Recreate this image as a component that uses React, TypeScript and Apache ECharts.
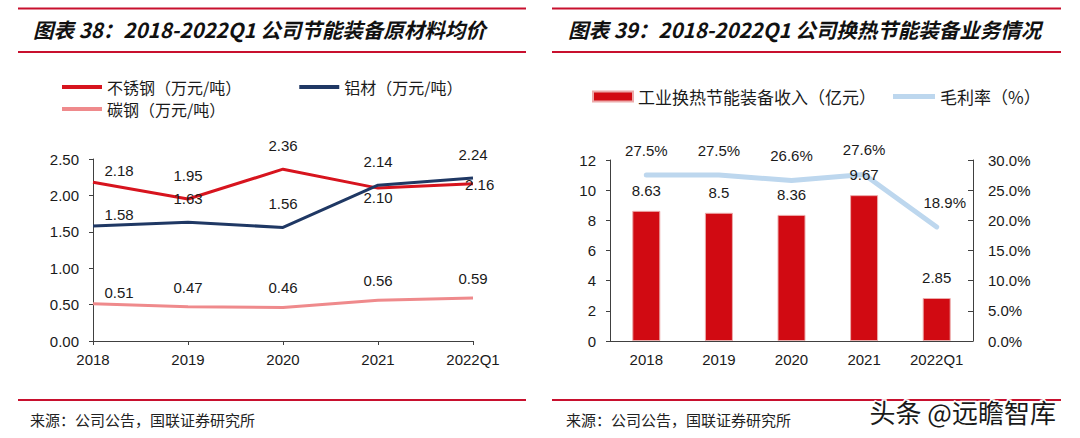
import React, { useEffect, useRef } from "react";
import * as echarts from "echarts";

const categories = ["2018", "2019", "2020", "2021", "2022Q1"];
const stainlessSteel = [2.18, 1.95, 2.36, 2.1, 2.16];
const aluminum = [1.58, 1.63, 1.56, 2.14, 2.24];
const carbonSteel = [0.51, 0.47, 0.46, 0.56, 0.59];
const revenue = [8.63, 8.5, 8.36, 9.67, 2.85];
const grossMargin = [27.5, 27.5, 26.6, 27.6, 18.9];

const nameStainless = "不锈钢（万元/吨）";
const nameAluminum = "铝材（万元/吨）";
const nameCarbon = "碳钢（万元/吨）";
const nameRevenue = "工业换热节能装备收入（亿元）";
const nameMargin = "毛利率（%）";

const title1 = "图表 38：2018-2022Q1 公司节能装备原材料均价";
const title2 = "图表 39：2018-2022Q1 公司换热节能装备业务情况";
const source = "来源：公司公告，国联证券研究所";
const watermark = "头条 @远瞻智库";

const RULE = "#c8102e";
const NUM_FONT = "Liberation Sans";
const CJK_FONT = "Noto Sans CJK SC";

function withLabels(values: number[], overrides: Record<number, any>, base: any) {
  return values.map((v, i) => ({
    value: v,
    label: { ...base, ...(overrides[i] || {}) },
  }));
}

export default function App() {
  const ref = useRef<HTMLDivElement>(null);
  useEffect(() => {
    if (!ref.current) return;
    const chart = echarts.init(ref.current, undefined, { renderer: "svg" });
    const lblBase = {
      show: true,
      position: "top",
      distance: 16,
      fontSize: 15,
      fontFamily: NUM_FONT,
      color: "#1a1a1a",
      formatter: (p: any) => Number(p.value).toFixed(2),
    };
    const firstShift = { distance: 4, offset: [26, 0] };
    const axisLineStyle = { color: "#404040", width: 1 };
    const tinySymbol = {
      symbol: "circle",
      symbolSize: 0.1,
      showSymbol: true,
    };
    const legendText = { fontSize: 16, color: "#1a1a1a", fontFamily: CJK_FONT };
    const option: any = {
      animation: false,
      backgroundColor: "#ffffff",
      textStyle: { fontFamily: CJK_FONT },
      legend: [
        {
          left: 57,
          top: 74,
          data: [nameStainless, nameAluminum],
          icon: "rect",
          itemWidth: 40,
          itemHeight: 4,
          itemGap: 58,
          textStyle: legendText,
        },
        {
          left: 57,
          top: 96,
          data: [nameCarbon],
          icon: "rect",
          itemWidth: 40,
          itemHeight: 4,
          textStyle: legendText,
        },
        {
          left: 587,
          top: 83,
          data: [nameRevenue],
          icon: "rect",
          itemWidth: 40,
          itemHeight: 10,
          textStyle: { ...legendText, fontSize: 17 },
        },
        {
          left: 888,
          top: 83,
          data: [nameMargin],
          icon: "rect",
          itemWidth: 42,
          itemHeight: 5,
          textStyle: { ...legendText, fontSize: 17 },
        },
      ],
      grid: [
        { left: 93, width: 380, top: 159, height: 182 },
        { left: 610, width: 363, top: 160, height: 181 },
      ],
      xAxis: [
        {
          gridIndex: 0,
          type: "category",
          data: categories,
          boundaryGap: false,
          axisLine: { lineStyle: axisLineStyle },
          axisTick: { show: true, length: 4, lineStyle: axisLineStyle },
          axisLabel: { margin: 11, fontSize: 15, fontFamily: NUM_FONT, color: "#1a1a1a" },
        },
        {
          gridIndex: 1,
          type: "category",
          data: categories,
          axisLine: { lineStyle: axisLineStyle },
          axisTick: { show: false },
          axisLabel: { margin: 11, fontSize: 15, fontFamily: NUM_FONT, color: "#1a1a1a" },
        },
      ],
      yAxis: [
        {
          gridIndex: 0,
          type: "value",
          min: 0,
          max: 2.5,
          interval: 0.5,
          axisLine: { show: true, lineStyle: axisLineStyle },
          axisTick: { show: true, length: 4, lineStyle: axisLineStyle },
          splitLine: { show: false },
          axisLabel: {
            margin: 14,
            fontSize: 15,
            fontFamily: NUM_FONT,
            color: "#1a1a1a",
            formatter: (v: number) => v.toFixed(2),
          },
        },
        {
          gridIndex: 1,
          type: "value",
          min: 0,
          max: 12,
          interval: 2,
          axisLine: { show: true, lineStyle: axisLineStyle },
          axisTick: { show: true, length: 4, lineStyle: axisLineStyle },
          splitLine: { show: false },
          axisLabel: { margin: 14, fontSize: 15, fontFamily: NUM_FONT, color: "#1a1a1a" },
        },
        {
          gridIndex: 1,
          type: "value",
          position: "right",
          min: 0,
          max: 30,
          interval: 5,
          axisLine: { show: true, lineStyle: axisLineStyle },
          axisTick: { show: true, inside: true, length: 5, lineStyle: axisLineStyle },
          splitLine: { show: false },
          axisLabel: {
            margin: 15,
            fontSize: 15,
            fontFamily: NUM_FONT,
            color: "#1a1a1a",
            formatter: (v: number) => v.toFixed(1) + "%",
          },
        },
      ],
      series: [
        {
          name: nameStainless,
          type: "line",
          xAxisIndex: 0,
          yAxisIndex: 0,
          ...tinySymbol,
          color: "#d7141e",
          itemStyle: { color: "#d7141e" },
          lineStyle: { width: 3, color: "#d7141e" },
          data: withLabels(
            stainlessSteel,
            {
              0: firstShift,
              3: { position: "bottom", distance: 2 },
              4: { position: "right", distance: 0, offset: [-8, 1] },
            },
            lblBase
          ),
          z: 3,
        },
        {
          name: nameAluminum,
          type: "line",
          xAxisIndex: 0,
          yAxisIndex: 0,
          ...tinySymbol,
          color: "#1f3864",
          itemStyle: { color: "#1f3864" },
          lineStyle: { width: 3, color: "#1f3864" },
          data: withLabels(aluminum, { 0: firstShift }, lblBase),
          z: 4,
        },
        {
          name: nameCarbon,
          type: "line",
          xAxisIndex: 0,
          yAxisIndex: 0,
          ...tinySymbol,
          color: "#ef8a8c",
          itemStyle: { color: "#ef8a8c" },
          lineStyle: { width: 3, color: "#ef8a8c" },
          data: withLabels(carbonSteel, { 0: firstShift }, { ...lblBase, distance: 12 }),
          z: 2,
        },
        {
          name: nameRevenue,
          type: "bar",
          xAxisIndex: 1,
          yAxisIndex: 1,
          barWidth: 28,
          color: "#d10a12",
          itemStyle: { color: "#d10a12", borderColor: "#ecaaaa", borderWidth: 1 },
          label: {
            show: true,
            position: "top",
            distance: 13,
            fontSize: 15,
            fontFamily: NUM_FONT,
            color: "#1a1a1a",
          },
          data: revenue,
          z: 5,
        },
        {
          name: nameMargin,
          type: "line",
          xAxisIndex: 1,
          yAxisIndex: 2,
          ...tinySymbol,
          color: "#bdd7ee",
          itemStyle: { color: "#bdd7ee" },
          lineStyle: { width: 5, color: "#bdd7ee", cap: "round", join: "round" },
          data: withLabels(
            grossMargin,
            { 4: { offset: [8, 0] } },
            {
              show: true,
              position: "top",
              distance: 17,
              fontSize: 15,
              fontFamily: NUM_FONT,
              color: "#1a1a1a",
              formatter: (p: any) => Number(p.value).toFixed(1) + "%",
            }
          ),
          z: 3,
        },
      ],
      graphic: [
        { type: "line", shape: { x1: 18, y1: 8.5, x2: 526, y2: 8.5 }, style: { stroke: RULE, lineWidth: 2 } },
        { type: "line", shape: { x1: 18, y1: 52, x2: 526, y2: 52 }, style: { stroke: RULE, lineWidth: 2 } },
        { type: "line", shape: { x1: 552, y1: 8.5, x2: 1061, y2: 8.5 }, style: { stroke: RULE, lineWidth: 2 } },
        { type: "line", shape: { x1: 552, y1: 52, x2: 1061, y2: 52 }, style: { stroke: RULE, lineWidth: 2 } },
        {
          type: "text",
          left: 33,
          top: 19,
          style: { text: title1, fontSize: 20.5, fontWeight: "bold", fontStyle: "italic", fill: "#111", fontFamily: CJK_FONT },
        },
        {
          type: "text",
          left: 568,
          top: 19,
          style: { text: title2, fontSize: 20.5, fontWeight: "bold", fontStyle: "italic", fill: "#111", fontFamily: CJK_FONT },
        },
        { type: "line", shape: { x1: 18, y1: 400, x2: 526, y2: 400 }, style: { stroke: RULE, lineWidth: 2 } },
        { type: "line", shape: { x1: 552, y1: 400, x2: 1061, y2: 400 }, style: { stroke: RULE, lineWidth: 2 } },
        {
          type: "text",
          left: 30,
          top: 412,
          style: { text: source, fontSize: 15, fill: "#222", fontFamily: CJK_FONT },
        },
        {
          type: "text",
          left: 566,
          top: 412,
          style: { text: source, fontSize: 15, fill: "#222", fontFamily: CJK_FONT },
        },
        {
          type: "text",
          left: 868,
          top: 397,
          z: 100,
          style: {
            text: watermark,
            fontSize: 26,
            fill: "#1a1a1a",
            stroke: "#ffffff",
            lineWidth: 3,
            fontFamily: CJK_FONT,
          },
        },
      ],
    };
    chart.setOption(option);
    return () => chart.dispose();
  }, []);
  return (
    <div
      ref={ref}
      style={{ position: "absolute", left: 0, top: 0, width: 1080, height: 438, background: "#fff" }}
    />
  );
}
